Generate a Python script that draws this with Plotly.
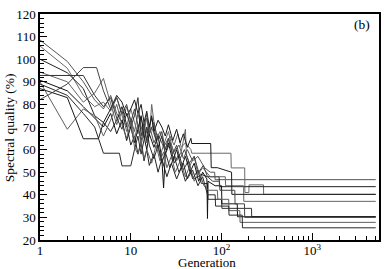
import plotly.graph_objects as go

# ---- data: (generation, spectral quality %) for each run ----
gen_s1 = [1,2,3,4,5,6,7,8,9,10,11,12,13,14,16,18,20,23,26,30,34,38,42,48,55,65,75,84,85,5000]
q_s1   = [108.5,99,90,82,78,84,76,72,79,73,68,76,70,65,71,63,67,61,65,59,62,56,60,55,57,52,50,50,46.7,46.7]

gen_s2 = [1,2,3,4,5,6,7,8,9,10,11,12,13,14,15,17,19,21,24,27,30,33,36,40,46,47,127,128,180,181,200,201,290,291,5000]
q_s2   = [105.8,96,84,79,81,77,83,75,70,78,72,67,74,69,63,70,64,68,60,66,62,67,61,63,60,58.4,58.4,51.9,51.9,41,41,44.4,44.4,40.2,40.2]

gen_s3 = [1,2,3,4,5,6,7,8,9,10,11,12,13,14,15,16,18,20,22,25,28,32,36,40,45,50,60,70,94,95,5000]
q_s3   = [100,94,87,75,72,68,73,79,71,62,66,58,63,55,60,53,58,50,56,48,54,47,52,46,50,47,49,48,48,43.6,43.6]

gen_s4 = [1,2,3,4,5,6,7,8,9,10,11,12,13,14,15,16,17,19,21,23,26,29,32,36,40,41,45,50,55,62,75,110,111,175,176,5000]
q_s4   = [94.3,90,81,85,91.5,80,71,77,68,74,65,71,62,68,74,66,80,65,57,62,68,60,55,59,69,58,53,57,49,52,48,48,44,44,37.1,37.1]

gen_s5 = [1,2,3,4,5,6,7,8,9,10,11,12,13,14,15,16,17,18,20,22,24,27,30,34,38,43,48,55,60,70,71,100,101,214,215,5000]
q_s5   = [92.8,92.8,92.8,84,79,83,74,69,76,70,75,83,66,72,64,70,74,68,61,66,58,63,54,58,51,55,47,51,45,45,38,38,34,34,30.3,30.3]

gen_s6 = [1,2,3,4,5,6,7,8,9,10,11,12,13,14,15,16,18,20,22,23,24,26,29,32,36,40,45,50,56,62,69,70,71,85,100,101,149,150,5000]
q_s6   = [90.7,86,79,74,70,76,67,73,64,70,63,69,75,66,60,67,61,66,56,43,58,63,55,60,52,57,50,54,46,50,47,29.5,46,44,44,36,36,30.3,30.3]

gen_s7 = [1,2,3,4,5,6,7,8,9,10,11,12,13,14,15,17,19,21,23,25,28,31,35,40,45,50,57,64,72,90,91,120,121,159,160,5000]
q_s7   = [90,69,78,75,66,73,80,71,65,72,61,58,64,56,60,54,62,55,59,52,57,50,55,48,53,46,50,44,42,42,38,38,33,33,27.8,27.8]

gen_s8 = [1,2,3,4,5,7.5,8,10,11,12,13,14,15,16,18,20,22,24,27,30,34,38,42,48,55,62,70,85,86,120,121,169,170,5000]
q_s8   = [89,84,76,70,58.4,58.4,52.8,52.8,60,66,58,64,70,62,56,62,54,59,52,57,50,54,47,51,44,48,40,40,35,35,31,31,25.4,25.4]

gen_s9 = [1,2,3,4.4,5,6,7,8,9,10,11,12,13,14,15,16,17,18,20,22,24,26,29,32,35,38,42,46,47,76,77,90,129,130,5000]
q_s9   = [87,83,64.8,64.8,72,78,84,81,75,78,82,76,80,72,77,70,75,68,73,70,66,71,64,69,63,67,61,65,62.7,62.7,52,52,50,40.2,40.2]

gen_s10 = [1,2,3,4.2,5,6,7,8,9,10,11,12,13,14,15,16,18,20,22,24,26,29,32,35,39,44,50,56,63,70,80,95,96,140,141,179,180,5000]
q_s10   = [82.1,89,96.3,96.3,86,78,83,76,80,72,78,70,64,70,76,67,72,64,68,60,65,58,62,56,60,54,57,50,53,48,46,46,42,42,36,36,30,30]

runs = [(gen_s1, q_s1), (gen_s2, q_s2), (gen_s3, q_s3), (gen_s4, q_s4), (gen_s5, q_s5),
        (gen_s6, q_s6), (gen_s7, q_s7), (gen_s8, q_s8), (gen_s9, q_s9), (gen_s10, q_s10)]
line_colors = ['#555555', '#6a6a6a', '#222222', '#666666', '#333333',
               '#111111', '#5f5f5f', '#2a2a2a', '#1a1a1a', '#444444']

x_tickvals = [1, 10, 100, 1000]
x_ticktext = ['1', '10', '10<sup>2</sup>', '10<sup>3</sup>']
x_minor = [m * 10**d for d in range(0, 4) for m in range(2, 10)]

fig = go.Figure()
for (g, q), c in zip(runs, line_colors):
    fig.add_trace(go.Scatter(x=g, y=q, mode='lines',
                             line=dict(color=c, width=1), showlegend=False))

font = dict(family='Liberation Serif', size=13.5, color='black')
tick_font = dict(family='Liberation Serif', size=13, color='black')
xlab_font = dict(family='Liberation Serif', size=13, color='black')

fig.update_layout(
    width=388, height=269,
    margin=dict(l=40, r=7, t=7, b=29),
    paper_bgcolor='white', plot_bgcolor='white',
    font=font,
    showlegend=False,
)
fig.update_xaxes(
    type='log', range=[0, 3.735],
    tickvals=x_tickvals, ticktext=x_ticktext,
    ticks='inside', ticklen=7, tickwidth=1, tickcolor='black',
    minor=dict(tickvals=x_minor, ticks='inside', ticklen=4, tickwidth=1, tickcolor='black'),
    showline=True, linecolor='black', linewidth=1.5, mirror=True,
    showgrid=False, zeroline=False,
    tickfont=tick_font, ticklabeloverflow='allow', ticklabelstandoff=-2,
)
fig.update_yaxes(
    range=[20, 120], dtick=10, tick0=20,
    ticks='inside', ticklen=7, tickwidth=1, tickcolor='black',
    minor=dict(dtick=2, ticks='inside', ticklen=4, tickwidth=1, tickcolor='black'),
    showline=True, linecolor='black', linewidth=1.5, mirror=True,
    showgrid=False, zeroline=False,
    tickfont=tick_font, ticklabeloverflow='allow',
)
# paper coords: plot area spans x 40..381 px, y 7..240 px
fig.add_annotation(text='Generation', xref='paper', yref='paper', x=0.4927, y=-0.101,
                   showarrow=False, font=xlab_font, xanchor='center', yanchor='middle')
fig.add_annotation(text='Spectral quality (%)', xref='paper', yref='paper', x=-0.0894, y=0.498,
                   showarrow=False, font=font, textangle=-90, xanchor='center', yanchor='middle')
fig.add_annotation(text='(b)', xref='paper', yref='paper', x=0.9487, y=0.953,
                   showarrow=False, font=font, xanchor='center', yanchor='middle')

fig.write_html('out.html', config={'displayModeBar': False},
               post_script="document.body.style.margin='0';")
